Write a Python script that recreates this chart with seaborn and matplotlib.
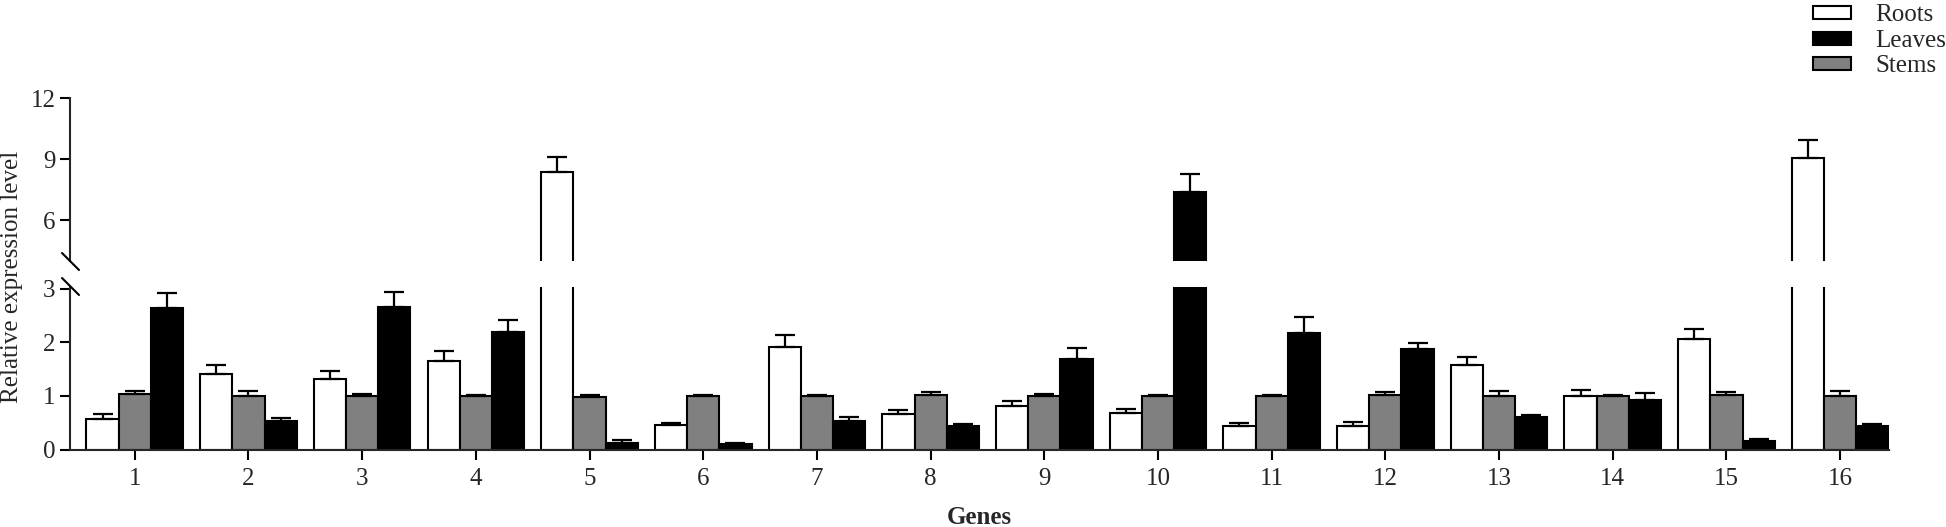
import numpy as np
import pandas as pd
import matplotlib
matplotlib.use("Agg")
import matplotlib.pyplot as plt
import seaborn as sns
from matplotlib.patches import Patch

genes = [str(i) for i in range(1, 17)]
roots = [0.57, 1.41, 1.32, 1.65, 8.38, 0.45, 1.92, 0.66, 0.82, 0.68, 0.43, 0.44, 1.58, 0.99, 2.06, 9.04]
roots_err = [0.10, 0.16, 0.15, 0.19, 0.74, 0.04, 0.22, 0.08, 0.08, 0.07, 0.06, 0.07, 0.14, 0.12, 0.19, 0.91]
stems = [1.03, 1.00, 1.00, 1.00, 0.97, 0.99, 1.00, 1.02, 0.99, 0.99, 0.99, 1.01, 0.99, 1.00, 1.01, 1.00]
stems_err = [0.07, 0.09, 0.04, 0.02, 0.05, 0.02, 0.02, 0.05, 0.05, 0.03, 0.02, 0.06, 0.10, 0.01, 0.06, 0.10]
leaves = [2.63, 0.54, 2.66, 2.20, 0.13, 0.10, 0.53, 0.43, 1.69, 7.37, 2.17, 1.88, 0.60, 0.93, 0.15, 0.43]
leaves_err = [0.28, 0.05, 0.28, 0.21, 0.04, 0.02, 0.08, 0.05, 0.20, 0.89, 0.30, 0.10, 0.04, 0.12, 0.05, 0.04]

tissues = ["Roots", "Stems", "Leaves"]
colors = {"Roots": "#ffffff", "Stems": "#808080", "Leaves": "#000000"}

df = pd.DataFrame({
    "Gene": genes * 3,
    "Tissue": ["Roots"] * 16 + ["Stems"] * 16 + ["Leaves"] * 16,
    "Value": roots + stems + leaves,
    "Err": roots_err + stems_err + leaves_err,
})

sns.set_style("ticks")
plt.rcParams["font.family"] = ["Liberation Serif", "DejaVu Serif"]
FS = 18

fig = plt.figure(figsize=(19.46, 5.27), dpi=100)
W, H = 1946, 527
left, right = 70 / W, 1889 / W
ax_lo = fig.add_axes([left, 1 - 449.5 / H, right - left, (449.5 - 287) / H])
ax_hi = fig.add_axes([left, 1 - 261 / H, right - left, (261 - 98.3) / H])

for ax in (ax_lo, ax_hi):
    sns.barplot(data=df, x="Gene", y="Value", hue="Tissue", hue_order=tissues,
                palette=colors, order=genes, width=0.85, gap=0, errorbar=None,
                edgecolor="black", linewidth=1.5, legend=False, ax=ax)
    # one-sided error bars, positioned from the bars drawn by seaborn
    for t, bars in zip(tissues, ax.containers):
        sub = df[df.Tissue == t]
        xs = [b.get_x() + b.get_width() / 2 for b in bars]
        hs = [b.get_height() for b in bars]
        ax.errorbar(xs, hs, yerr=[np.zeros(len(hs)), sub["Err"].values],
                    fmt="none", ecolor="black", elinewidth=1.6, capsize=7,
                    capthick=1.6, zorder=1)
    ax.set_xlim(-0.57, 15.43)
    ax.set_xlabel("")
    ax.set_ylabel("")
    for s in ("top", "right"):
        ax.spines[s].set_visible(False)
    for s in ("left", "bottom"):
        ax.spines[s].set_linewidth(1.5)
    ax.tick_params(axis="both", width=1.5, length=7, labelsize=FS, color="black")

ax_lo.set_ylim(0, 3.03)
ax_lo.set_yticks([0, 1, 2, 3])
ax_lo.set_yticklabels(["0", "1", "2", "3"])
ax_lo.tick_params(axis="x", pad=6)
ax_lo.set_xlabel("Genes", fontsize=FS, fontweight="bold", labelpad=12)

ax_hi.set_ylim(4, 12)
ax_hi.set_yticks([6, 9, 12])
ax_hi.set_yticklabels(["6", "9", "12"])
ax_hi.spines["bottom"].set_visible(False)
ax_hi.tick_params(axis="x", bottom=False, labelbottom=False)

# break marks on the y axis
for yc in (262, 287):
    fig.add_artist(plt.Line2D([62 / W, 79 / W], [1 - (yc - 9) / H, 1 - (yc + 8) / H],
                              color="black", lw=1.5))

fig.text(12 / W, 1 - 277 / H, "Relative expression level", rotation=90,
         ha="center", va="center", fontsize=FS)

handles = [Patch(facecolor=colors[t], edgecolor="black", linewidth=1.5)
           for t in ["Roots", "Leaves", "Stems"]]
fig.legend(handles, ["Roots", "Leaves", "Stems"], loc="upper right",
           bbox_to_anchor=(1.008, 1.02), frameon=False, fontsize=FS,
           handlelength=1.5, handleheight=0.42, labelspacing=0.14,
           handletextpad=1.0, borderaxespad=0.2)

fig.savefig("out.png", dpi=100)
